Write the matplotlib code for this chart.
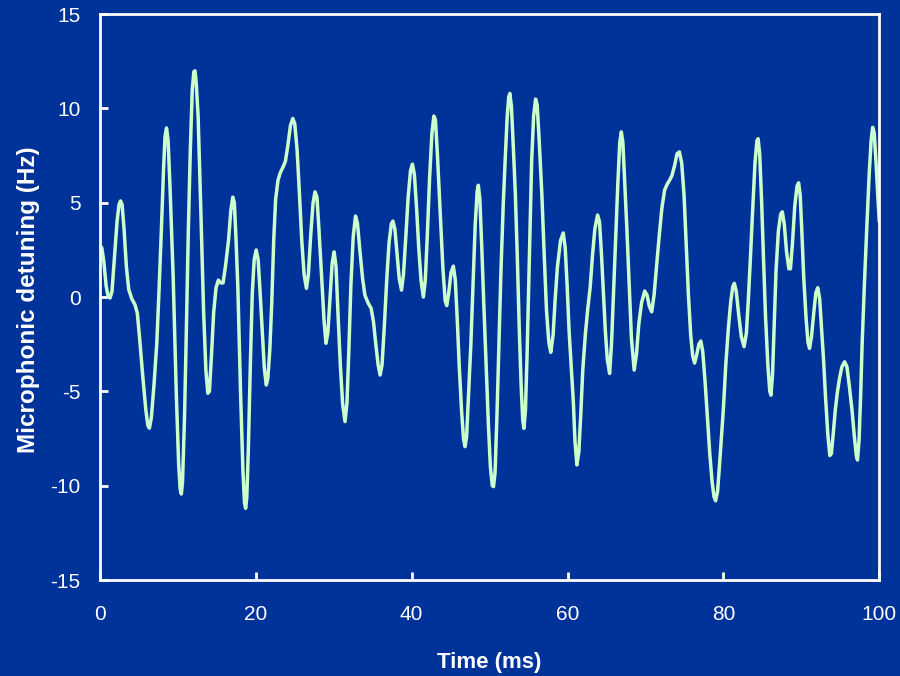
import matplotlib
matplotlib.use("Agg")
import matplotlib.pyplot as plt

plt.rcParams['font.family'] = ['Liberation Sans', 'DejaVu Sans']
plt.rcParams['axes.unicode_minus'] = False

# Data (time in ms, detuning in Hz)
time_ms = [
    0.0, 0.25, 0.5, 0.8, 1.05, 1.3, 1.55, 1.9, 2.2, 2.45,
    2.65, 2.85, 3.1, 3.4, 3.7, 4.1, 4.5, 4.8, 5.1, 5.5,
    5.9, 6.15, 6.35, 6.6, 6.95, 7.3, 7.6, 7.9, 8.15, 8.35,
    8.55, 8.75, 9.0, 9.4, 9.8, 10.1, 10.3, 10.45, 10.6, 10.85,
    11.1, 11.35, 11.6, 11.85, 12.05, 12.2, 12.35, 12.6, 12.95, 13.3,
    13.6, 13.85, 14.05, 14.3, 14.6, 14.9, 15.2, 15.5, 15.8, 16.1,
    16.5, 16.8, 17.05, 17.25, 17.45, 17.7, 18.05, 18.35, 18.55, 18.7,
    18.85, 19.05, 19.3, 19.55, 19.8, 20.05, 20.3, 20.55, 20.8, 21.1,
    21.35, 21.55, 21.8, 22.05, 22.3, 22.55, 22.85, 23.15, 23.5, 23.8,
    24.1, 24.45, 24.75, 25.0, 25.3, 25.6, 25.9, 26.2, 26.5, 26.75,
    27.05, 27.35, 27.6, 27.85, 28.1, 28.45, 28.75, 29.0, 29.25, 29.5,
    29.8, 30.05, 30.3, 30.55, 30.85, 31.15, 31.45, 31.7, 31.95, 32.2,
    32.5, 32.8, 33.05, 33.35, 33.7, 34.0, 34.4, 34.8, 35.1, 35.4,
    35.7, 35.95, 36.2, 36.5, 36.8, 37.1, 37.4, 37.6, 37.85, 38.1,
    38.4, 38.7, 38.95, 39.25, 39.55, 39.85, 40.1, 40.35, 40.65, 40.9,
    41.2, 41.5, 41.75, 42.0, 42.3, 42.6, 42.85, 43.05, 43.3, 43.65,
    44.0, 44.3, 44.5, 44.75, 45.05, 45.35, 45.6, 45.85, 46.1, 46.4,
    46.65, 46.85, 47.05, 47.3, 47.6, 47.9, 48.15, 48.4, 48.55, 48.75,
    49.0, 49.25, 49.55, 49.85, 50.1, 50.35, 50.5, 50.7, 50.95, 51.2,
    51.45, 51.75, 52.0, 52.25, 52.45, 52.6, 52.8, 53.05, 53.3, 53.55,
    53.8, 54.05, 54.25, 54.4, 54.6, 54.8, 55.0, 55.2, 55.4, 55.65,
    55.9, 56.1, 56.35, 56.7, 57.0, 57.3, 57.6, 57.85, 58.15, 58.4,
    58.7, 59.1, 59.45, 59.7, 59.95, 60.2, 60.5, 60.75, 60.95, 61.2,
    61.45, 61.7, 61.95, 62.3, 62.6, 62.9, 63.2, 63.5, 63.85, 64.1,
    64.35, 64.6, 64.85, 65.1, 65.4, 65.65, 65.9, 66.15, 66.45, 66.7,
    66.9, 67.1, 67.35, 67.6, 67.9, 68.2, 68.55, 68.85, 69.15, 69.5,
    69.9, 70.2, 70.5, 70.8, 71.1, 71.45, 71.75, 72.1, 72.45, 72.8,
    73.1, 73.4, 73.75, 74.05, 74.35, 74.65, 74.95, 75.2, 75.5, 75.8,
    76.05, 76.3, 76.55, 76.85, 77.1, 77.35, 77.65, 77.95, 78.25, 78.55,
    78.8, 79.0, 79.25, 79.5, 79.75, 80.0, 80.3, 80.65, 80.95, 81.2,
    81.4, 81.65, 81.95, 82.3, 82.65, 82.95, 83.2, 83.45, 83.75, 84.05,
    84.3, 84.45, 84.65, 84.9, 85.15, 85.4, 85.7, 85.95, 86.1, 86.3,
    86.5, 86.75, 87.05, 87.35, 87.55, 87.8, 88.1, 88.4, 88.6, 88.85,
    89.15, 89.45, 89.65, 89.85, 90.05, 90.3, 90.6, 90.85, 91.05, 91.3,
    91.6, 91.85, 92.1, 92.35, 92.6, 92.85, 93.1, 93.4, 93.65, 93.85,
    94.1, 94.35, 94.6, 94.9, 95.2, 95.55, 95.85, 96.15, 96.5, 96.8,
    97.05, 97.2, 97.4, 97.6, 97.8, 98.1, 98.4, 98.7, 98.95, 99.15,
    99.35, 99.6, 99.8, 100.0,
]
detuning_hz = [
    2.75, 2.6, 1.9, 0.6, 0.05, -0.05, 0.3, 2.3, 4.0, 4.9,
    5.1, 4.9, 3.6, 1.6, 0.4, -0.1, -0.4, -0.85, -2.2, -4.2,
    -6.0, -6.8, -6.95, -6.4, -4.6, -2.45, 0.5, 3.7, 6.6, 8.5,
    8.97, 8.3, 5.8, 1.08, -5.1, -8.8, -10.2, -10.44, -9.8, -6.5,
    -1.6, 3.6, 7.8, 11.0, 11.95, 12.0, 11.4, 9.6, 4.6, -0.7,
    -3.9, -5.1, -5.0, -3.2, -0.8, 0.5, 0.9, 0.75, 0.75, 1.6,
    3.0, 4.6, 5.3, 5.0, 3.2, 0.5, -5.1, -9.2, -10.9, -11.2,
    -10.6, -8.0, -3.6, 0.2, 2.0, 2.5, 2.0, 0.3, -1.6, -3.8,
    -4.66, -4.3, -2.8, -0.3, 3.0, 5.2, 6.2, 6.6, 6.9, 7.2,
    8.0, 9.1, 9.47, 9.2, 7.8, 5.5, 3.0, 1.2, 0.46, 1.2,
    3.3, 5.0, 5.58, 5.3, 3.6, 1.08, -1.2, -2.45, -1.9, -0.2,
    1.8, 2.4, 1.6, -0.9, -3.6, -5.7, -6.6, -5.6, -2.7, 0.6,
    3.2, 4.3, 3.9, 2.5, 1.0, 0.1, -0.3, -0.6, -1.3, -2.5,
    -3.6, -4.13, -3.6, -1.5, 0.9, 2.9, 3.9, 4.03, 3.6, 2.4,
    1.0, 0.37, 1.2, 3.2, 5.3, 6.7, 7.05, 6.5, 4.6, 2.67,
    0.9, 0.0, 0.9, 3.2, 6.3, 8.7, 9.6, 9.4, 7.6, 4.6,
    1.6, -0.2, -0.45, 0.2, 1.3, 1.64, 0.9, -1.2, -3.6, -6.0,
    -7.5, -7.93, -7.4, -5.2, -2.45, 0.9, 3.8, 5.6, 5.93, 5.2,
    2.6, -0.3, -3.6, -6.8, -9.0, -10.0, -10.05, -9.3, -6.2, -2.5,
    1.3, 4.9, 7.3, 9.5, 10.6, 10.8, 10.1, 7.9, 5.5, 2.2,
    -1.6, -4.7, -6.5, -6.96, -6.0, -3.2, 0.2, 3.8, 7.26, 9.6,
    10.5, 10.2, 8.4, 5.5, 2.3, -0.7, -2.4, -2.93, -2.0, -0.2,
    1.6, 3.0, 3.4, 2.6, 0.6, -1.8, -3.9, -5.6, -7.6, -8.9,
    -8.2, -6.2, -3.9, -1.9, -0.6, 0.5, 2.2, 3.6, 4.35, 4.0,
    2.3, 0.2, -1.8, -3.3, -4.05, -2.4, 0.2, 2.8, 6.0, 8.2,
    8.76, 8.2, 6.0, 3.73, 0.8, -2.2, -3.87, -3.0, -1.4, -0.3,
    0.32, 0.1, -0.5, -0.78, 0.1, 1.8, 3.2, 4.7, 5.67, 6.0,
    6.2, 6.45, 7.0, 7.6, 7.7, 7.1, 5.4, 3.0, 0.2, -2.0,
    -3.1, -3.5, -3.1, -2.5, -2.33, -2.9, -4.5, -6.4, -8.3, -9.8,
    -10.6, -10.8, -10.3, -8.9, -7.4, -5.9, -3.6, -1.57, -0.2, 0.55,
    0.73, 0.3, -0.9, -2.1, -2.63, -1.9, -0.1, 1.96, 4.6, 7.1,
    8.3, 8.4, 7.6, 5.1, 1.96, -1.0, -3.6, -5.0, -5.2, -4.1,
    -1.6, 1.4, 3.5, 4.4, 4.52, 3.9, 2.4, 1.5, 1.5, 2.8,
    4.8, 5.9, 6.06, 5.4, 3.6, 1.08, -1.1, -2.4, -2.72, -2.1,
    -0.8, 0.2, 0.5, -0.1, -1.7, -3.34, -5.3, -7.3, -8.4, -8.3,
    -7.2, -6.0, -5.1, -4.3, -3.7, -3.43, -3.7, -4.7, -6.0, -7.4,
    -8.4, -8.64, -7.6, -5.3, -2.45, 0.8, 3.73, 6.5, 8.3, 9.0,
    8.7, 7.0, 5.4, 4.0,
]
assert len(time_ms) == len(detuning_hz)

x_ticks = [0, 20, 40, 60, 80, 100]
y_ticks = [-15, -10, -5, 0, 5, 10, 15]

bg = '#003399'
fig = plt.figure(figsize=(9, 6.76), dpi=100, facecolor=bg)
ax = fig.add_axes([0.111, 0.142, 0.866, 0.837], facecolor=bg)

ax.plot(time_ms, detuning_hz, color='#ccffcc', linewidth=2.5,
        solid_joinstyle='round', solid_capstyle='round')

ax.set_xlim(0, 100)
ax.set_ylim(-15, 15)
ax.set_xticks(x_ticks)
ax.set_xticklabels([str(v) for v in x_ticks])
ax.set_yticks(y_ticks)
ax.set_yticklabels([str(v) for v in y_ticks])

for s in ax.spines.values():
    s.set_color('white')
    s.set_linewidth(2)
ax.tick_params(direction='in', length=6, width=2, colors='white', labelsize=15)
ax.tick_params(axis='x', pad=18)
ax.tick_params(axis='y', pad=14)

ax.set_xlabel('Time (ms)', color='white', fontsize=16, fontweight='bold', labelpad=20)
ax.set_ylabel('Microphonic detuning (Hz)', color='white', fontsize=17.5,
              fontweight='bold')
ax.yaxis.set_label_coords(-0.077, 0.495)

fig.savefig('out.png', dpi=100, facecolor=bg)
